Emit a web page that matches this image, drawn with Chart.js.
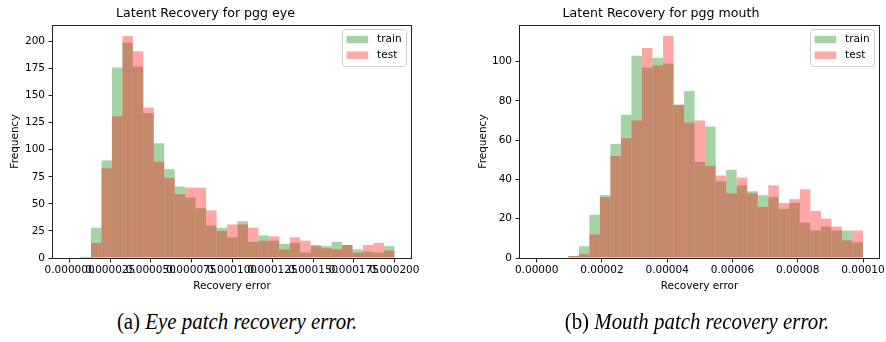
<!DOCTYPE html>
<html>
<head>
<meta charset="utf-8">
<script src="https://cdn.jsdelivr.net/npm/chart.js@4.4.1/dist/chart.umd.min.js"></script>
<style>
  html, body { margin: 0; padding: 0; background: #fff; }
  #fig { position: relative; width: 886px; height: 342px; overflow: hidden; }
  #eyeWrap { position: absolute; left: 0; top: 0; width: 464px; height: 300px; }
  #mouthWrap { position: absolute; left: 443px; top: 0; width: 513px; height: 300px; }
  .cap {
    position: absolute; top: 309px; transform: translateX(-50%) scaleX(0.87);
    font-family: "Liberation Serif", "Times New Roman", serif;
    font-size: 24px; line-height: 24px; white-space: nowrap; color: #000;
  }
</style>
</head>
<body>
<div id="fig">
  <div id="eyeWrap"><canvas id="eyeChart" width="464" height="300"></canvas></div>
  <div id="mouthWrap"><canvas id="mouthChart" width="513" height="300"></canvas></div>
  <div class="cap" style="left:237px">(a) <i>Eye patch recovery error.</i></div>
  <div class="cap" style="left:697px">(b) <i>Mouth patch recovery error.</i></div>
</div>
<script>
'use strict';
// ********************* DATA ********************

const seriesNames = ['train', 'test'];

// eye patch histogram: 30 bins
const eyeBinRange = [0.00000676, 0.0002];
const eyeTrain = [1, 28, 90, 176, 199, 177, 134, 106, 82, 66,
  56, 46, 30, 28, 19, 34, 15, 21, 16, 13,
  14, 5, 12, 11, 15, 12, 8, 6, 5, 11];
const eyeTest = [1, 14, 83, 131, 205, 191, 139, 89, 74, 59,
  65, 65, 44, 25, 31, 31, 28, 16, 20, 8,
  19, 16, 11, 9, 8, 12, 5, 12, 14, 7];
const eyeXTicks = [0, 0.000025, 0.00005, 0.000075, 0.0001, 0.000125, 0.00015, 0.000175, 0.0002];
const eyeYTicks = [0, 25, 50, 75, 100, 125, 150, 175, 200];

// mouth patch histogram: 28 bins
const mouthBinRange = [0.0000097, 0.0001];
const mouthTrain = [1, 6, 22, 32, 58, 73, 103, 97, 102, 99,
  78, 85, 49, 67, 39, 45, 37, 34, 32, 31,
  25, 28, 18, 14, 16, 14, 14, 8];
const mouthTest = [1, 2, 12, 31, 52, 61, 70, 107, 98, 113,
  78, 69, 70, 47, 42, 33, 41, 33, 26, 37,
  28, 30, 35, 24, 20, 16, 9, 14];
const mouthXTicks = [0, 0.00002, 0.00004, 0.00006, 0.00008, 0.0001];
const mouthYTicks = [0, 20, 40, 60, 80, 100];

// ********************* HELPERS ********************

Chart.defaults.font.family = '"DejaVu Sans", sans-serif';
Chart.defaults.font.size = 10.5;
Chart.defaults.color = '#000';

const trainColor = 'rgba(0,128,0,0.35)';
const testColor = 'rgba(255,0,0,0.35)';

// bin centres of an evenly split histogram range
function binCentres(range, n) {
  let w = (range[1] - range[0]) / n;
  let out = [];
  for (let i = 0; i < n; i++) out.push(range[0] + (i + 0.5) * w);
  return out;
}

// axes frame like matplotlib spines
const framePlugin = {
  id: 'frame',
  afterDatasetsDraw(chart) {
    let { ctx, chartArea: a } = chart;
    ctx.save();
    ctx.strokeStyle = '#222';
    ctx.lineWidth = 1;
    ctx.strokeRect(Math.round(a.left) - 0.5, Math.round(a.top) + 0.5,
      Math.round(a.right - a.left) + 1, Math.round(a.bottom - a.top));
    ctx.restore();
  }
};

// legend box in upper right of the axes
const boxLegend = {
  id: 'boxLegend',
  afterDraw(chart) {
    let { ctx, chartArea: a } = chart;
    let w = 64, h = 37;
    let x = a.right - 4.5 - w, y = a.top + 4.5;
    ctx.save();
    ctx.beginPath();
    ctx.roundRect(x, y, w, h, 3);
    ctx.fillStyle = 'rgba(255,255,255,0.8)';
    ctx.fill();
    ctx.strokeStyle = '#cccccc';
    ctx.lineWidth = 1;
    ctx.stroke();
    ctx.font = '10.5px "DejaVu Sans", sans-serif';
    ctx.textBaseline = 'middle';
    chart.data.datasets.forEach((ds, i) => {
      let cy = y + 10 + i * 15.7;
      ctx.fillStyle = ds.backgroundColor;
      ctx.fillRect(x + 4, cy - 3.7, 21.7, 7.4);
      ctx.fillStyle = '#000';
      ctx.fillText(ds.label, x + 34.6, cy);
    });
    ctx.restore();
  }
};

function renderHist(canvasId, opts) {
  let centres = binCentres(opts.range, opts.train.length);
  let toPoints = arr => arr.map((v, i) => ({ x: centres[i], y: v }));

  let chartObj = {
    type: 'bar',
    data: {
      datasets: [{
        label: seriesNames[0],
        data: toPoints(opts.train),
        backgroundColor: trainColor,
        order: 2,
      }, {
        label: seriesNames[1],
        data: toPoints(opts.test),
        backgroundColor: testColor,
        order: 1,
      }]
    },
    options: {
      responsive: false,
      animation: false,
      devicePixelRatio: 1,
      layout: { padding: { left: 0, right: opts.yWidth, top: 0, bottom: 0 } },
      datasets: {
        bar: {
          grouped: false, barPercentage: 1, categoryPercentage: 1,
          borderWidth: 0, inflateAmount: 0
        }
      },
      plugins: {
        legend: { display: false },
        tooltip: { enabled: false },
        title: {
          display: true,
          text: opts.title,
          color: '#000',
          font: { size: 12.6, weight: 'normal' },
          padding: { top: 6, bottom: 3.9 }
        }
      },
      scales: {
        x: {
          type: 'linear',
          offset: false,
          min: opts.xMin,
          max: opts.xMax,
          grid: { offset: false, drawOnChartArea: false, drawTicks: true, tickLength: 4.5, color: '#222' },
          border: { display: false },
          ticks: {
            autoSkip: false, maxRotation: 0, minRotation: 0, padding: 1, color: '#000',
            callback: v => v.toFixed(opts.digits)
          },
          afterBuildTicks: s => { s.ticks = opts.xTicks.map(v => ({ value: v })); },
          afterFit: s => { s.height = 42; },
          title: { display: true, text: 'Recovery error', color: '#000', padding: { top: 0, bottom: 7.7 } }
        },
        y: {
          min: 0,
          max: opts.yMax,
          grid: { drawOnChartArea: false, drawTicks: true, tickLength: 4.5, color: '#222' },
          border: { display: false },
          ticks: { padding: 3.5, color: '#000' },
          afterBuildTicks: s => { s.ticks = opts.yTicks.map(v => ({ value: v })); },
          afterFit: s => { s.width = opts.yWidth; },
          title: { display: true, text: 'Frequency', color: '#000', padding: { top: opts.yTitlePad, bottom: 0 } }
        }
      }
    },
    plugins: [framePlugin, boxLegend]
  };
  new Chart(document.getElementById(canvasId), chartObj);
}

// ********************* EXECUTABLE CODE ********************

renderHist('eyeChart', {
  title: 'Latent Recovery for pgg eye',
  range: eyeBinRange, train: eyeTrain, test: eyeTest,
  xTicks: eyeXTicks, yTicks: eyeYTicks, digits: 6,
  xMin: -0.0000102, xMax: 0.0002102, yMax: 215.25,
  yWidth: 53, yTitlePad: 9
});

renderHist('mouthChart', {
  title: 'Latent Recovery for pgg mouth',
  range: mouthBinRange, train: mouthTrain, test: mouthTest,
  xTicks: mouthXTicks, yTicks: mouthYTicks, digits: 5,
  xMin: -0.0000051, xMax: 0.0001049, yMax: 118.65,
  yWidth: 77, yTitlePad: 34.4
});
</script>
</body>
</html>
